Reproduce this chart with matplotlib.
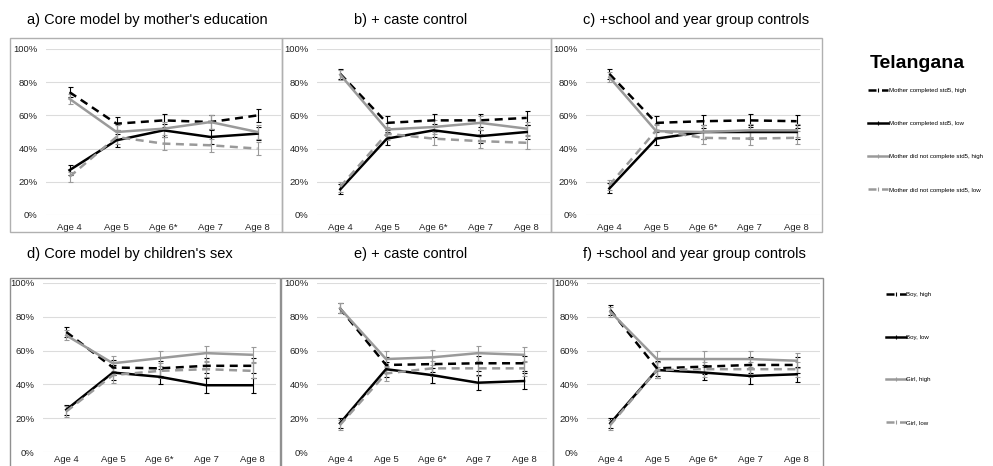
import numpy as np
import matplotlib
matplotlib.use("Agg")
import matplotlib.pyplot as plt
from matplotlib.lines import Line2D
from matplotlib.patches import Rectangle

plt.rcParams["font.family"] = ["Liberation Sans", "DejaVu Sans"]

# %% data (percent)
ages = ["Age 4", "Age 5", "Age 6*", "Age 7", "Age 8"]

# top row: by mother's education
a_mom_high = [74, 55, 57, 56, 60]
a_mom_low = [27, 45, 51, 47, 49]
a_nomom_high = [70, 50, 52, 56, 50]
a_nomom_low = [23, 47, 43, 42, 40]

b_mom_high = [85, 55.5, 57, 57, 58.5]
b_mom_low = [15.5, 46, 51, 47.5, 50]
b_nomom_high = [84.5, 51.5, 53, 55.5, 52]
b_nomom_low = [17, 49, 46, 44.5, 43.5]

c_mom_high = [85, 55.5, 56.5, 57, 56.5]
c_mom_low = [16, 46, 50, 50, 50]
c_nomom_high = [83, 50.5, 50, 51, 51]
c_nomom_low = [18, 51, 46.5, 46, 46.5]

# bottom row: by children's sex
d_boy_high = [71, 50, 49.5, 51, 51]
d_boy_low = [25, 47, 44.5, 39.5, 39.5]
d_girl_high = [69, 52.5, 55.5, 58.5, 57.5]
d_girl_low = [24, 45.5, 48, 49, 48]

e_boy_high = [85, 51.5, 52, 52.5, 52.5]
e_boy_low = [17, 49, 45.5, 41, 42]
e_girl_high = [85, 55, 56, 58.5, 57.5]
e_girl_low = [16, 46.5, 49.5, 49.5, 49.5]

f_boy_high = [84, 49.5, 50.5, 51.5, 51.5]
f_boy_low = [17, 48.5, 47, 45, 46]
f_girl_high = [83, 55, 55, 55, 54]
f_girl_low = [16, 48.5, 49, 49, 49]

# error bar half widths
top_err = [3, 4, 4, 4, 4]
bottom_err = [3, 4.5, 4.5, 4.5, 4.5]

top_labels = [
    "Mother completed std5, high",
    "Mother completed std5, low",
    "Mother did not complete std5, high",
    "Mother did not complete std5, low",
]
bottom_labels = ["Boy, high", "Boy, low", "Girl, high", "Girl, low"]

titles = [
    "a) Core model by mother's education",
    "b) + caste control",
    "c) +school and year group controls",
    "d) Core model by children's sex",
    "e) + caste control",
    "f) +school and year group controls",
]

W, H = 993, 466
BLACK = "#000000"
GREY = "#9a9a9a"
DASH = (0, (3.2, 2.2))
# (colour, linestyle) for high / low of group 1 and group 2
STYLES = [(BLACK, DASH), (BLACK, "-"), (GREY, "-"), (GREY, DASH)]


def fig_rect(x0, y0, x1, y1):
    return [x0 / W, 1 - y1 / H, (x1 - x0) / W, (y1 - y0) / H]


def plot_panel(fig, rect, series, err, xpad=6):
    ax = fig.add_axes(fig_rect(*rect))
    x = np.arange(len(ages))
    for vals, (col, ls) in zip(series, STYLES):
        ax.errorbar(
            x, vals, yerr=err, color=col, linestyle=ls, lw=1.8,
            elinewidth=0.8, capsize=1.8, capthick=0.8, zorder=3,
        )
    ax.set_xlim(-0.5, len(ages) - 0.5)
    ax.set_ylim(0, 100)
    ax.set_xticks(x)
    ax.set_xticklabels(ages)
    ax.set_yticks(range(0, 101, 20))
    ax.set_yticklabels([f"{v}%" for v in range(0, 101, 20)])
    ax.tick_params(length=0, labelsize=6.8, colors="#222222")
    ax.tick_params(axis="x", pad=xpad)
    ax.tick_params(axis="y", pad=6)
    ax.grid(axis="y", color="#dcdcdc", lw=0.8)
    ax.set_axisbelow(True)
    for sp in ax.spines.values():
        sp.set_visible(False)
    ax.patch.set_alpha(0)
    return ax


def add_box(fig, x0, y0, x1, y1, color):
    r = Rectangle((x0 / W, 1 - y1 / H), (x1 - x0) / W, (y1 - y0) / H,
                  transform=fig.transFigure, fill=False, ec=color, lw=1.0)
    fig.add_artist(r)


def legend_handles():
    hs = []
    for col, ls in STYLES:
        hs.append(Line2D([], [], color=col, linestyle=ls, lw=1.8,
                         marker="|", markersize=3, markeredgewidth=0.8))
    return hs


def main():
    fig = plt.figure(figsize=(W / 100, H / 100), dpi=100)

    # chart frames
    for x0, x1 in [(10, 282), (282, 551), (551, 822)]:
        add_box(fig, x0, 38, x1, 232, "#b0b0b0")
    for x0, x1 in [(10, 280), (281, 553), (553, 823)]:
        add_box(fig, x0, 278, x1, 475, "#909090")

    top_rects = [(46, 49, 281, 215), (317, 49, 550, 215), (586, 49, 820, 215)]
    bottom_rects = [(43, 283, 276, 452), (317, 283, 547, 452), (587, 283, 820, 452)]

    top_series = [
        [a_mom_high, a_mom_low, a_nomom_high, a_nomom_low],
        [b_mom_high, b_mom_low, b_nomom_high, b_nomom_low],
        [c_mom_high, c_mom_low, c_nomom_high, c_nomom_low],
    ]
    bottom_series = [
        [d_boy_high, d_boy_low, d_girl_high, d_girl_low],
        [e_boy_high, e_boy_low, e_girl_high, e_girl_low],
        [f_boy_high, f_boy_low, f_girl_high, f_girl_low],
    ]
    for rect, s in zip(top_rects, top_series):
        plot_panel(fig, rect, s, top_err)
    for rect, s in zip(bottom_rects, bottom_series):
        plot_panel(fig, rect, s, bottom_err, xpad=2.5)

    # panel titles
    title_pos = [(27, 20), (354, 20), (583, 20), (27, 254), (354, 254), (583, 254)]
    for t, (tx, ty) in zip(titles, title_pos):
        fig.text(tx / W, 1 - ty / H, t, fontsize=10.5, ha="left", va="center")

    fig.text(870 / W, 1 - 63 / H, "Telangana", fontsize=14, fontweight="bold",
             ha="left", va="center")

    fig.legend(legend_handles(), top_labels, loc="upper left",
               bbox_to_anchor=(868 / W, 1 - 88 / H), frameon=False,
               fontsize=4.4, labelspacing=4.55, handlelength=3.2,
               handletextpad=0.3, borderpad=0, borderaxespad=0)
    fig.legend(legend_handles(), bottom_labels, loc="upper left",
               bbox_to_anchor=(886 / W, 1 - 292 / H), frameon=False,
               fontsize=4.4, labelspacing=6.1, handlelength=3.2,
               handletextpad=0.1, borderpad=0, borderaxespad=0)

    fig.savefig("out.png", dpi=100)
    plt.close(fig)


if __name__ == "__main__":
    main()
